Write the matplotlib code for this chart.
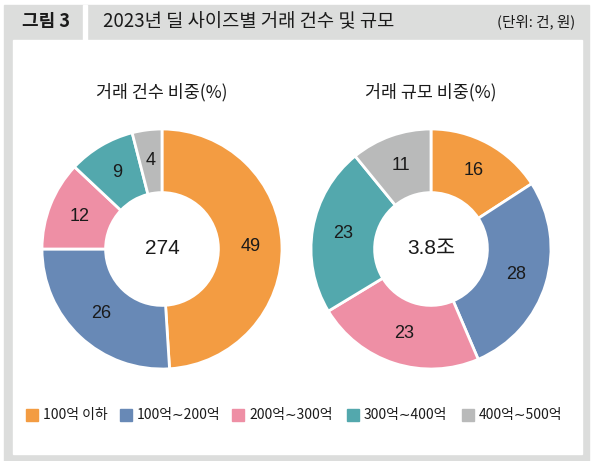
import matplotlib
matplotlib.use('Agg')
import matplotlib.pyplot as plt
from matplotlib.patches import Rectangle

plt.rcParams['font.family'] = ['Noto Sans CJK KR', 'DejaVu Sans']

# Datos
categorias = ['100억 이하', '100억∼200억', '200억∼300억', '300억∼400억', '400억∼500억']
colores = ['#f39c42', '#6889b6', '#ee8fa5', '#53a8ad', '#b9baba']
건수_비중 = [49, 26, 12, 9, 4]
규모_비중 = [16, 28, 23, 23, 11]
titulos = ['거래 건수 비중(%)', '거래 규모 비중(%)']
centros = ['274', '3.8조']

W, H = 593, 461
fig = plt.figure(figsize=(W / 100, H / 100), dpi=100)
fig.patch.set_facecolor('white')

gris = '#dcdddc'
negro = '#1a1a1a'
num_font = ['Liberation Sans', 'Noto Sans CJK KR']

def rect(x, y, w, h, color):
    # coordenadas en pixeles desde arriba
    fig.patches.append(Rectangle((x / W, 1 - (y + h) / H), w / W, h / H,
                                 transform=fig.transFigure, color=color, zorder=-5))

# Marco
rect(4, 5, 585, 456, gris)
rect(13, 40, 569, 414, 'white')
rect(83, 5, 4, 35, 'white')

def texto(x, y, s, **kw):
    fig.text(x / W, 1 - y / H, s, **kw)

texto(46, 22, '그림 3', ha='center', va='center', fontsize=13, fontweight='bold', color=negro)
texto(103, 22, '2023년 딜 사이즈별 거래 건수 및 규모', ha='left', va='center', fontsize=13.5, color=negro)
texto(575, 22, '(단위: 건, 원)', ha='right', va='center', fontsize=10.5, color=negro)

# Donas
r_ext = 120
for i, (valores, cx) in enumerate([(건수_비중, 162), (규모_비중, 431)]):
    cy = 249
    ax = fig.add_axes([(cx - r_ext) / W, 1 - (cy + r_ext) / H, 2 * r_ext / W, 2 * r_ext / H])
    ax.set_zorder(2)
    wedges, txts = ax.pie(valores, colors=colores, startangle=90, counterclock=False,
                          radius=1, labels=[str(v) for v in valores], labeldistance=0.74,
                          wedgeprops=dict(width=0.53, edgecolor='white', linewidth=2),
                          textprops=dict(fontsize=13, color=negro, ha='center', va='center',
                                         family=num_font))
    ax.set_xlim(-1, 1)
    ax.set_ylim(-1, 1)
    ax.set_aspect('equal')
    ax.axis('off')
    ax.text(0, 0, centros[i], ha='center', va='center', fontsize=15, color=negro, family=num_font)
    texto(cx, 92, titulos[i], ha='center', va='center', fontsize=12.5, color=negro)

# Leyenda
leg_x = [27, 121, 233, 348, 463]
for x, c, lab in zip(leg_x, colores, categorias):
    rect(x - 1, 409, 12, 12, c)
    texto(x + 16, 415, lab, ha='left', va='center', fontsize=10, color=negro)

fig.savefig('out.png', dpi=100)
